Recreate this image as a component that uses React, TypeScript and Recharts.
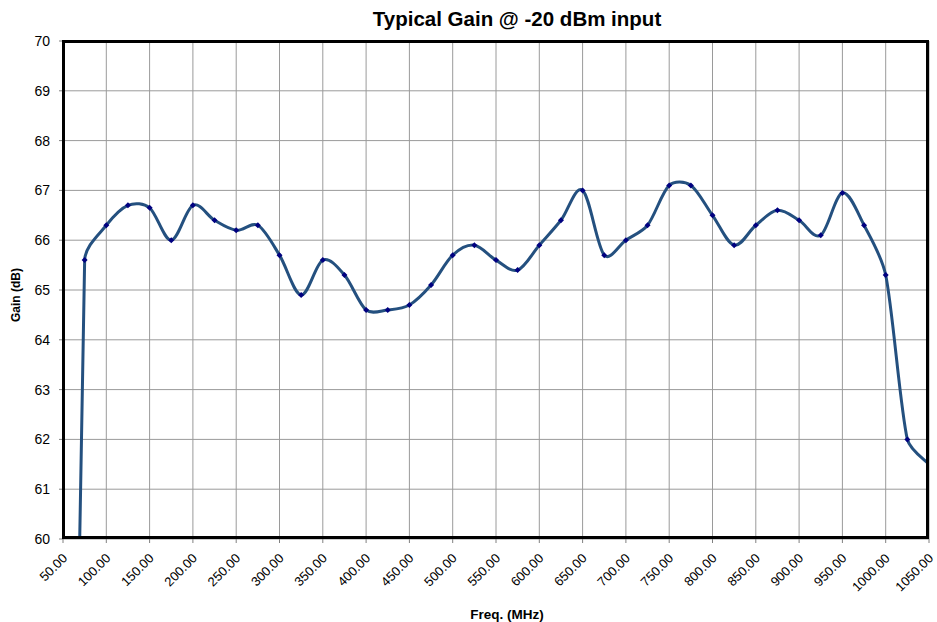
import React from 'react'
import { LineChart, Line, XAxis, YAxis, CartesianGrid } from 'recharts'

// Frequency points (MHz) and measured gain (dB)
const freqMHz = [
  50, 75, 100, 125, 150, 175, 200, 225, 250, 275, 300, 325, 350, 375, 400, 425, 450,
  475, 500, 525, 550, 575, 600, 625, 650, 675, 700, 725, 750, 775, 800, 825, 850,
  875, 900, 925, 950, 975, 1000, 1025, 1050,
]
const gainDb = [
  38, 65.6, 66.3, 66.7, 66.65, 66.0, 66.7, 66.4, 66.2, 66.3, 65.7, 64.9, 65.6, 65.3, 64.6, 64.6, 64.7,
  65.1, 65.7, 65.9, 65.6, 65.4, 65.9, 66.4, 67.0, 65.7, 66.0, 66.3, 67.1, 67.1, 66.5, 65.9, 66.3,
  66.6, 66.4, 66.1, 66.95, 66.3, 65.3, 62.0, 61.5,
]
const xTicks = [
  50, 100, 150, 200, 250, 300, 350, 400, 450, 500, 550, 600, 650, 700, 750, 800, 850, 900,
  950, 1000, 1050,
]
const yTicks = [60, 61, 62, 63, 64, 65, 66, 67, 68, 69, 70]

const data = freqMHz.map((f, i) => ({ freq: f, gain: gainDb[i] }))

// Catmull-Rom smoothing, handle length capped at a third of the segment
// so the steep first segment doesn't overshoot
const smoothCurve = (context: any) => {
  let pts: [number, number][] = []
  const handle = (a: [number, number], b: [number, number], cap: number) => {
    let dx = (b[0] - a[0]) / 6
    let dy = (b[1] - a[1]) / 6
    const l = Math.hypot(dx, dy)
    if (l > cap && l > 0) {
      dx = (dx / l) * cap
      dy = (dy / l) * cap
    }
    return [dx, dy]
  }
  return {
    areaStart() {},
    areaEnd() {},
    lineStart() {
      pts = []
    },
    point(x: number, y: number) {
      pts.push([+x, +y])
    },
    lineEnd() {
      if (!pts.length) return
      context.moveTo(pts[0][0], pts[0][1])
      for (let i = 0; i < pts.length - 1; i++) {
        const p0 = pts[i - 1] || pts[i]
        const p1 = pts[i]
        const p2 = pts[i + 1]
        const p3 = pts[i + 2] || p2
        const cap = Math.hypot(p2[0] - p1[0], p2[1] - p1[1]) / 3
        const h1 = handle(p0, p2, cap)
        const h2 = handle(p1, p3, cap)
        context.bezierCurveTo(
          p1[0] + h1[0],
          p1[1] + h1[1],
          p2[0] - h2[0],
          p2[1] - h2[1],
          p2[0],
          p2[1]
        )
      }
    },
  }
}

const Diamond = (props: any) => {
  const { cx, cy, index } = props
  if (cx == null || cy == null) return <g key={index} />
  const s = 3
  return (
    <path
      key={index}
      d={`M${cx},${cy - s}L${cx + s},${cy}L${cx},${cy + s}L${cx - s},${cy}Z`}
      fill="#000080"
    />
  )
}

const XTick = (props: any) => {
  const { x, y, payload } = props
  const tx = x + 5
  const ty = y + 14
  return (
    <text
      x={tx}
      y={ty}
      transform={`rotate(-45, ${tx}, ${ty})`}
      textAnchor="end"
      fontSize={13}
      fill="#000"
    >
      {Number(payload.value).toFixed(2)}
    </text>
  )
}

const font = 'Arial, "Liberation Sans", sans-serif'

export default function App() {
  return (
    <div style={{ position: 'relative', width: 937, height: 622, fontFamily: font, background: '#fff', overflow: 'hidden' }}>
      <style>{`body{margin:0}`}</style>
      <div
        style={{
          position: 'absolute',
          top: 8.6,
          left: 517,
          transform: 'translateX(-50%)',
          fontSize: 20.5,
          lineHeight: 1,
          fontWeight: 'bold',
          whiteSpace: 'nowrap',
        }}
      >
        Typical Gain @ -20 dBm input
      </div>
      <LineChart
        width={937}
        height={622}
        data={data}
        margin={{ top: 41, right: 8, left: 0, bottom: 0 }}
        style={{ fontFamily: font }}
      >
        <CartesianGrid stroke="#9a9a9a" strokeWidth={1} />
        <XAxis
          dataKey="freq"
          type="number"
          domain={[50, 1050]}
          ticks={xTicks}
          allowDataOverflow
          height={83}
          tickSize={4}
          tick={<XTick />}
          axisLine={false}
          tickLine={{ stroke: '#808080' }}
          interval={0}
        />
        <YAxis
          type="number"
          domain={[60, 70]}
          ticks={yTicks}
          allowDataOverflow
          width={63}
          tickSize={4}
          tickMargin={9}
          axisLine={false}
          tickLine={{ stroke: '#808080' }}
          tick={{ fontSize: 14, fill: '#000' }}
          interval={0}
        />
        <Line
          dataKey="gain"
          type={smoothCurve as any}
          stroke="#24507f"
          strokeWidth={3}
          dot={<Diamond />}
          activeDot={false}
          isAnimationActive={false}
        />
      </LineChart>
      <div
        style={{
          position: 'absolute',
          left: 62,
          top: 40,
          width: 867,
          height: 499,
          border: '3px solid #000',
          boxSizing: 'border-box',
          pointerEvents: 'none',
        }}
      />
      <div
        style={{
          position: 'absolute',
          left: 15.5,
          top: 295,
          transform: 'translate(-50%, -50%) rotate(-90deg)',
          fontSize: 12,
          lineHeight: 1,
          fontWeight: 'bold',
          whiteSpace: 'nowrap',
        }}
      >
        Gain (dB)
      </div>
      <div
        style={{
          position: 'absolute',
          left: 507,
          top: 608.3,
          transform: 'translateX(-50%)',
          fontSize: 13.5,
          lineHeight: 1,
          fontWeight: 'bold',
          whiteSpace: 'nowrap',
        }}
      >
        Freq. (MHz)
      </div>
    </div>
  )
}
